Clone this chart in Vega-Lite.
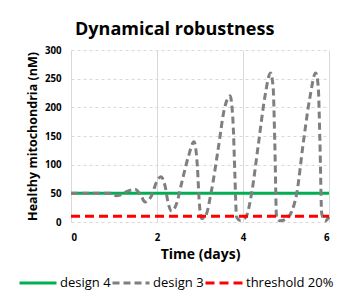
{
  "$schema": "https://vega.github.io/schema/vega-lite/v6.json",
  "width": 258,
  "height": 172,
  "autosize": {"type": "none"},
  "padding": {"left": 71, "top": 50, "right": 12, "bottom": 76},
  "background": "white",
  "title": {
    "text": "Dynamical robustness",
    "font": "Open Sans",
    "fontSize": 18,
    "fontWeight": "bold",
    "color": "#000000",
    "anchor": "start",
    "frame": "group",
    "dx": 4,
    "offset": 6
  },
  "config": {
    "view": {"stroke": null},
    "axis": {
      "labelFont": "Open Sans",
      "labelFontWeight": "bold",
      "labelFontSize": 9.7,
      "labelColor": "#000000",
      "titleFont": "Open Sans",
      "titleFontWeight": "bold",
      "titleColor": "#000000",
      "domain": false,
      "ticks": false,
      "gridColor": "#d9d9d9",
      "gridWidth": 1
    }
  },
  "data": {
    "values": [
      {"series": "design 4", "day": 0, "value": 50},
      {"series": "design 4", "day": 6, "value": 50},
      {"series": "design 3", "day": 0, "value": 50},
      {"series": "design 3", "day": 0.5, "value": 50},
      {"series": "design 3", "day": 0.95, "value": 50},
      {"series": "design 3", "day": 1.05, "value": 46},
      {"series": "design 3", "day": 1.14, "value": 47},
      {"series": "design 3", "day": 1.29, "value": 53},
      {"series": "design 3", "day": 1.49, "value": 57},
      {"series": "design 3", "day": 1.64, "value": 44},
      {"series": "design 3", "day": 1.72, "value": 35},
      {"series": "design 3", "day": 1.8, "value": 38},
      {"series": "design 3", "day": 1.88, "value": 47},
      {"series": "design 3", "day": 1.99, "value": 70},
      {"series": "design 3", "day": 2.09, "value": 79},
      {"series": "design 3", "day": 2.19, "value": 62},
      {"series": "design 3", "day": 2.26, "value": 33},
      {"series": "design 3", "day": 2.34, "value": 19},
      {"series": "design 3", "day": 2.46, "value": 33},
      {"series": "design 3", "day": 2.57, "value": 67},
      {"series": "design 3", "day": 2.73, "value": 114},
      {"series": "design 3", "day": 2.86, "value": 140},
      {"series": "design 3", "day": 2.94, "value": 96},
      {"series": "design 3", "day": 2.98, "value": 38},
      {"series": "design 3", "day": 3.04, "value": 6},
      {"series": "design 3", "day": 3.12, "value": 9},
      {"series": "design 3", "day": 3.27, "value": 56},
      {"series": "design 3", "day": 3.43, "value": 131},
      {"series": "design 3", "day": 3.56, "value": 195},
      {"series": "design 3", "day": 3.7, "value": 220},
      {"series": "design 3", "day": 3.77, "value": 172},
      {"series": "design 3", "day": 3.81, "value": 85},
      {"series": "design 3", "day": 3.85, "value": 9},
      {"series": "design 3", "day": 3.93, "value": 3},
      {"series": "design 3", "day": 4.02, "value": 5},
      {"series": "design 3", "day": 4.09, "value": 12},
      {"series": "design 3", "day": 4.2, "value": 50},
      {"series": "design 3", "day": 4.36, "value": 137},
      {"series": "design 3", "day": 4.51, "value": 219},
      {"series": "design 3", "day": 4.64, "value": 260},
      {"series": "design 3", "day": 4.7, "value": 236},
      {"series": "design 3", "day": 4.74, "value": 137},
      {"series": "design 3", "day": 4.78, "value": 9},
      {"series": "design 3", "day": 4.86, "value": 2},
      {"series": "design 3", "day": 5.02, "value": 6},
      {"series": "design 3", "day": 5.13, "value": 18},
      {"series": "design 3", "day": 5.25, "value": 50},
      {"series": "design 3", "day": 5.4, "value": 137},
      {"series": "design 3", "day": 5.56, "value": 219},
      {"series": "design 3", "day": 5.69, "value": 260},
      {"series": "design 3", "day": 5.75, "value": 236},
      {"series": "design 3", "day": 5.79, "value": 137},
      {"series": "design 3", "day": 5.83, "value": 15},
      {"series": "design 3", "day": 5.91, "value": 2},
      {"series": "design 3", "day": 6, "value": 9},
      {"series": "threshold 20%", "day": 0, "value": 10},
      {"series": "threshold 20%", "day": 6, "value": 10}
    ]
  },
  "mark": {"type": "line", "interpolate": "monotone", "strokeWidth": 3, "strokeCap": "butt"},
  "encoding": {
    "x": {
      "field": "day",
      "type": "quantitative",
      "scale": {"domain": [0, 6], "nice": false},
      "axis": {
        "values": [0, 2, 4, 6],
        "title": "Time (days)",
        "titleFontSize": 14,
        "labelPadding": 10,
        "titlePadding": 6,
        "gridDash": []
      }
    },
    "y": {
      "field": "value",
      "type": "quantitative",
      "scale": {"domain": [0, 300], "nice": false},
      "axis": {
        "values": [0, 50, 100, 150, 200, 250, 300],
        "title": "Healthy mitochondria (nM)",
        "titleFontSize": 12.5,
        "labelPadding": 10,
        "titlePadding": 5,
        "gridDash": [3, 3]
      }
    },
    "color": {
      "field": "series",
      "type": "nominal",
      "scale": {
        "domain": ["design 4", "design 3", "threshold 20%"],
        "range": ["#00B050", "#7F7F7F", "#FF0000"]
      },
      "legend": {
        "title": null,
        "orient": "none",
        "direction": "horizontal",
        "legendX": -53,
        "legendY": 213,
        "symbolType": "stroke",
        "symbolSize": 1369,
        "symbolStrokeWidth": 3,
        "labelFont": "Open Sans",
        "labelFontSize": 13,
        "labelColor": "#000000",
        "labelOffset": 2,
        "columnPadding": -5
      }
    },
    "strokeDash": {
      "field": "series",
      "type": "nominal",
      "scale": {
        "domain": ["design 4", "design 3", "threshold 20%"],
        "range": [[1, 0], [7, 4], [9, 5]]
      },
      "legend": null
    }
  }
}
